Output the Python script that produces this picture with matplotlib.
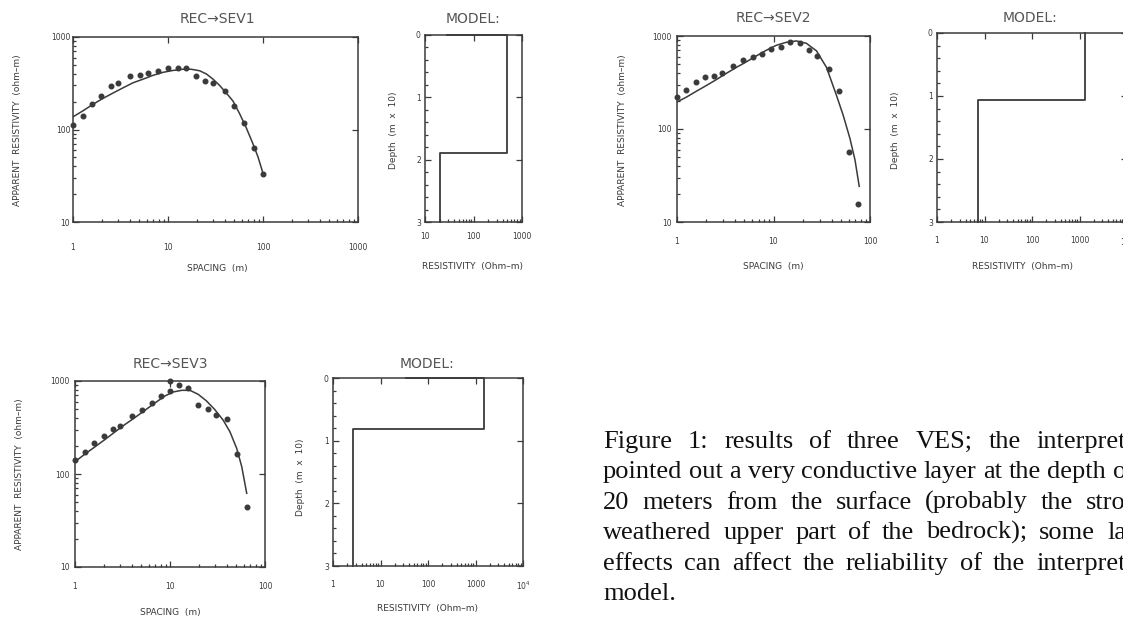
import numpy as np
import matplotlib.pyplot as plt
from matplotlib.ticker import LogLocator, NullFormatter, MultipleLocator

# ---- data ----
# REC->SEV1 : field points and fitted curve
sev1_x = [1.0, 1.27, 1.6, 1.99, 2.49, 2.98, 3.95, 5.03, 6.15, 7.85, 10.0, 12.7, 15.6,
          19.9, 24.3, 29.8, 39.5, 49.5, 63, 80, 100]
sev1_y = [113, 140, 187, 229, 293, 318, 375, 390, 413, 424, 467, 467, 467,
          375, 331, 318, 264, 179, 119, 63, 33]
sev1_cx = [1.0, 1.27, 1.62, 2.07, 2.64, 3.36, 4.28, 5.46, 6.95, 8.86, 11.3, 14.4, 17.6,
           21.6, 25.4, 29.8, 34.9, 41.1, 48.3, 56.6, 66.5, 78.4, 88.6, 100]
sev1_cy = [137, 159, 187, 217, 248, 282, 320, 350, 385, 415, 435, 448, 448,
           431, 398, 350, 300, 248, 203, 149, 105, 70, 50.5, 33.6]

# REC->SEV2
sev2_x = [1.0, 1.25, 1.56, 1.94, 2.4, 2.95, 3.81, 4.84, 6.15, 7.69, 9.5, 12.1, 14.8,
          18.8, 23.4, 28.4, 37.8, 47.3, 60, 75.7]
sev2_y = [220, 264, 318, 366, 375, 397, 479, 552, 597, 646, 733, 769, 871,
          850, 703, 612, 441, 259, 57, 15.8]
sev2_cx = [1.0, 1.25, 1.59, 2.01, 2.56, 3.25, 4.13, 5.24, 6.66, 8.44, 10.7, 13.6, 17.3,
           21.9, 27.9, 35.4, 45.0, 52.8, 62.0, 69.9, 77.3]
sev2_cy = [195, 220, 255, 293, 340, 397, 460, 528, 612, 703, 795, 856, 885,
           835, 692, 460, 229, 140, 79, 46.5, 24.2]

# REC->SEV3
sev3_x = [1.0, 1.27, 1.6, 2.02, 2.53, 2.98, 4.0, 5.03, 6.4, 8.0, 10.0, 10.0, 12.5,
          15.6, 19.9, 25.3, 30.5, 40, 50.3, 64]
sev3_y = [141, 173, 217, 255, 301, 327, 418, 493, 581, 685, 775, 1000, 913,
          841, 548, 497, 429, 395, 164, 44]
sev3_cx = [1.0, 1.274, 1.623, 2.07, 2.64, 3.36, 4.28, 5.46, 6.95, 8.86, 10.8, 13.3, 16.2,
           19.8, 24.2, 29.6, 36.3, 42.8, 50.4, 56.9, 64.2]
sev3_cy = [135.6, 164, 196, 235, 284, 341, 405, 485, 581, 691, 762, 794, 794,
           719, 611, 493, 379, 284, 188, 120, 62]

# layered models: resistivity of each layer (ohm-m) and interface depths (m x 10)
mod1_res = [28, 480, 20]
mod1_dep = [0.0, 1.89]
mod2_res = [1290, 7.2]
mod2_dep = [1.07]
mod3_res = [35, 1500, 2.6]
mod3_dep = [0.0, 0.82]

caption = [
    "Figure 1: results of three VES; the interpret",
    "pointed out a very conductive layer at the depth o",
    "20 meters from the surface (probably the stro",
    "weathered upper part of the bedrock); some la",
    "effects can affect the reliability of the interpret",
    "model.",
]

# ---- figure ----
W, H = 1123, 619
ink = '#3a3a3a'
fig = plt.figure(figsize=(W / 100, H / 100), dpi=100)


def add_ax(x0, y0, x1, y1):
    return fig.add_axes([x0 / W, 1 - y1 / H, (x1 - x0) / W, (y1 - y0) / H])


def to_axes(ax, px, py):
    bb = ax.get_position()
    return (px / W - bb.x0) / bb.width, (1 - py / H - bb.y0) / bb.height


def frame(ax, title, tpos, xlabel, xpos, ylabel, ypos, xpad, ypad):
    for s in ax.spines.values():
        s.set_color(ink)
        s.set_linewidth(1.1)
    ax.tick_params(which='both', direction='in', top=True, right=True,
                   colors=ink, labelsize=5.5, width=0.9)
    ax.tick_params(which='major', length=4)
    ax.tick_params(which='minor', length=2.2, top=False, right=False)
    ax.tick_params(axis='x', pad=xpad)
    ax.tick_params(axis='y', pad=ypad)
    ax.text(*to_axes(ax, *tpos), title, transform=ax.transAxes, ha='center',
            va='center', fontsize=10, color='#555555')
    ax.set_xlabel(xlabel, fontsize=6.5, color=ink, va='center')
    ax.xaxis.set_label_coords(*to_axes(ax, *xpos))
    ax.set_ylabel(ylabel, fontsize=6.5, color=ink, va='center')
    ax.yaxis.set_label_coords(*to_axes(ax, *ypos))


def sounding(ax, xs, ys, cx, cy, xmax):
    ax.set_xscale('log')
    ax.set_yscale('log')
    ax.plot(cx, cy, color=ink, lw=1.1)
    ax.plot(xs, ys, 'o', ms=3.3, color=ink, clip_on=False)
    ax.set_xlim(1, xmax)
    ax.set_ylim(10, 1000)
    xt = [t for t in [1, 10, 100, 1000] if t <= xmax]
    ax.set_xticks(xt, [str(t) for t in xt])
    ax.set_yticks([10, 100, 1000], ['10', '100', '1000'])
    for axis in (ax.xaxis, ax.yaxis):
        axis.set_minor_locator(LogLocator(base=10, subs=np.arange(2, 10)))
        axis.set_minor_formatter(NullFormatter())


def model(ax, res, dep, xlim, xt, xtl):
    tops = [0] + dep
    bots = dep + [3]
    mx, my = [], []
    for r, t, b in zip(res, tops, bots):
        mx += [r, r]
        my += [t, b]
    ax.set_xscale('log')
    ax.plot(mx, my, color=ink, lw=1.3, clip_on=False)
    ax.set_xlim(*xlim)
    ax.set_ylim(3, 0)
    ax.set_xticks(xt, xtl)
    ax.xaxis.set_minor_locator(LogLocator(base=10, subs=np.arange(2, 10)))
    ax.xaxis.set_minor_formatter(NullFormatter())
    ax.set_yticks([0, 1, 2, 3], ['0', '1', '2', '3'])
    ax.yaxis.set_minor_locator(MultipleLocator(0.2))


xl = "SPACING  (m)"
yl = "APPARENT  RESISTIVITY  (ohm\u2013m)"
rl = "RESISTIVITY  (Ohm\u2013m)"
dl = "Depth  (m  x  10)"

a1 = add_ax(73, 37, 358, 222)
sounding(a1, sev1_x, sev1_y, sev1_cx, sev1_cy, 1000)
frame(a1, "REC\u2192SEV1", (217, 19), xl, (217, 268), yl, (18, 130), 15, 2)

m1 = add_ax(425, 35, 522, 222)
model(m1, mod1_res, mod1_dep, (10, 1000), [10, 100, 1000], ['10', '100', '1000'])
frame(m1, "MODEL:", (473, 19), rl, (473, 267), dl, (393, 130), 7, 3)

a2 = add_ax(677, 36, 870, 222)
sounding(a2, sev2_x, sev2_y, sev2_cx, sev2_cy, 100)
frame(a2, "REC\u2192SEV2", (773, 18), xl, (773, 267), yl, (622, 130), 11, 4)

m2 = add_ax(937, 33, 1127, 222)
model(m2, mod2_res, mod2_dep, (1, 1e4), [1, 10, 100, 1000, 1e4],
      ['1', '10', '100', '1000', '10$^{4}$'])
frame(m2, "MODEL:", (1030, 18), rl, (1023, 267), dl, (895, 130), 10, 3)

a3 = add_ax(75, 381, 265, 567)
sounding(a3, sev3_x, sev3_y, sev3_cx, sev3_cy, 100)
frame(a3, "REC\u2192SEV3", (170, 364), xl, (170, 612), yl, (20, 474), 11, 4)

m3 = add_ax(333, 378, 523, 566)
model(m3, mod3_res, mod3_dep, (1, 1e4), [1, 10, 100, 1000, 1e4],
      ['1', '10', '100', '1000', '10$^{4}$'])
frame(m3, "MODEL:", (427, 364), rl, (427, 609), dl, (300, 477), 10, 3)

# caption, justified like the printed page (cut at the right edge)
rend = fig.canvas.get_renderer()
base_y = [448, 478, 509, 539, 570, 600]
for i, line in enumerate(caption):
    words = line.split(' ')
    ts = [fig.text(0, 1 - base_y[i] / H, w, fontsize=19, family='Liberation Serif',
                   color='#111111', va='baseline') for w in words]
    widths = [t.get_window_extent(rend).width for t in ts]
    if i < len(caption) - 1:
        gap = (1126 - 603 - sum(widths)) / (len(words) - 1)
    else:
        gap = rend.points_to_pixels(19) * 0.25
    x = 603
    for t, w in zip(ts, widths):
        t.set_x(x / W)
        x += w + gap

fig.savefig('out.png', dpi=100, facecolor='white')
